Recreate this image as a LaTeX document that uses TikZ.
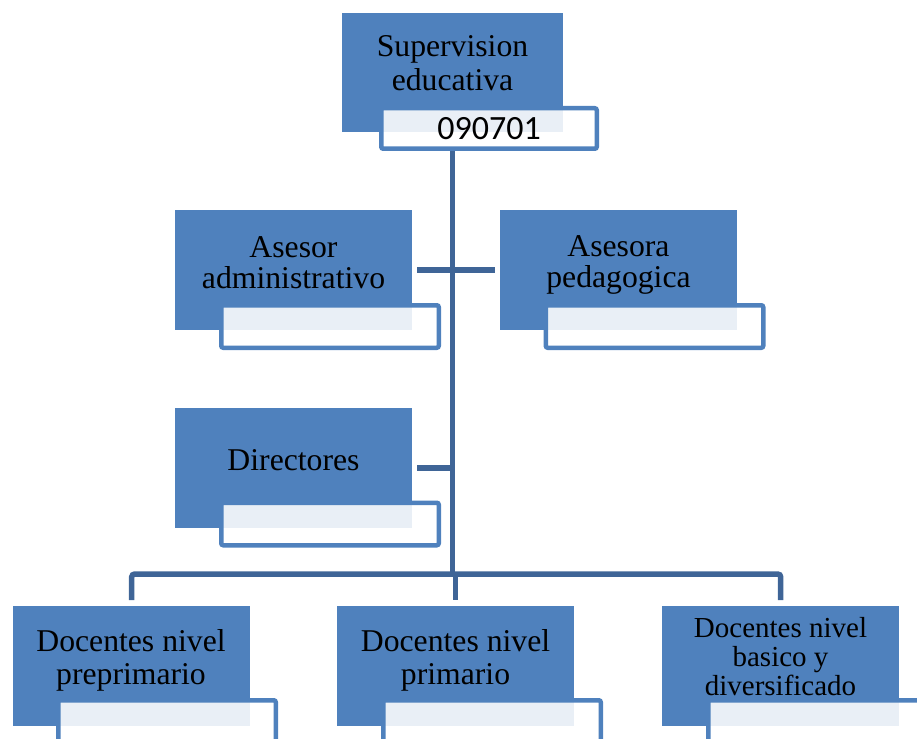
\documentclass[tikz,border=0pt]{standalone}
\usepackage{fontspec}
\setmainfont{Liberation Serif}
\newfontfamily\calib{Carlito}
\definecolor{boxblue}{HTML}{4F81BD}
\definecolor{linkblue}{HTML}{3F6597}
\begin{document}
\begin{tikzpicture}[x=1pt,y=-1pt,
  bluebox/.style={rectangle, fill=boxblue, inner sep=0pt, minimum width=237pt, minimum height=120pt, anchor=north west},
  whitebox/.style={rectangle, draw=boxblue, line width=4.5pt, fill=white, fill opacity=0.88, text opacity=1, rounded corners=2pt, inner sep=0pt, minimum width=217.5pt, minimum height=42.5pt},
  lbl/.style={anchor=base, inner sep=0pt, font=\fontsize{31.7}{33}\selectfont},
  lblsmall/.style={anchor=base, inner sep=0pt, font=\fontsize{29}{30}\selectfont},
  link/.style={draw=linkblue, line width=5.5pt}]
\useasboundingbox (0,0) rectangle (917,738);
\clip (0,0) rectangle (917,738);
% blue boxes
\node[bluebox, minimum width=221pt, minimum height=119pt] (top) at (342,13) {};
\node[bluebox] (adm) at (175,210) {};
\node[bluebox] (ped) at (500,210) {};
\node[bluebox] (dir) at (175,408) {};
\node[bluebox] (pre) at (13,606) {};
\node[bluebox] (pri) at (337,606) {};
\node[bluebox] (bas) at (662,606) {};
% labels
\node[lbl] (t1a) at (452.5,57) {Supervision};
\node[lbl] (t1b) at (452.5,91) {educativa};
\node[lbl] (t2a) at (293.5,257) {Asesor};
\node[lbl] (t2b) at (293.5,288) {administrativo};
\node[lbl] (t3a) at (618.5,256) {Asesora};
\node[lbl] (t3b) at (618.5,287) {pedagogica};
\node[lbl] (t4) at (293.5,470) {Directores};
\node[lbl] (t5a) at (131,651) {Docentes nivel};
\node[lbl] (t5b) at (131,684) {preprimario};
\node[lbl] (t6a) at (455.5,651) {Docentes nivel};
\node[lbl] (t6b) at (455.5,684) {primario};
\node[lblsmall] (t7a) at (780.5,637) {Docentes nivel};
\node[lblsmall] (t7b) at (780.5,666) {basico y};
\node[lblsmall] (t7c) at (780.5,695) {diversificado};
% connectors
\coordinate (bar) at (452.5,574);
\coordinate (topw-s) at (452.5,151);
\draw[link] (topw-s) -- (bar);
\draw[link] ([xshift=5pt]adm.east) -- ([xshift=-5pt]ped.west);
\draw[link] ([xshift=5pt]dir.east) -- (dir.east -| bar);
\draw[link, rounded corners=3pt] ([yshift=6pt]pre.north) |- (bar) -| ([yshift=6pt]bas.north);
\draw[link] (pri.north |- bar) -- ([yshift=6pt]pri.north);
% white boxes
\node[whitebox, minimum width=215.5pt, minimum height=40.5pt, font=\calib\fontsize{34}{36}\selectfont] (topw) at (489,128.5) {090701};
\node[whitebox] (admw) at (330,326.5) {};
\node[whitebox] (pedw) at (654.5,326.5) {};
\node[whitebox] (dirw) at (330,524) {};
\node[whitebox] (prew) at (167,721.5) {};
\node[whitebox] (priw) at (492,721.5) {};
\node[whitebox] (basw) at (817,721.5) {};
\end{tikzpicture}
\end{document}
